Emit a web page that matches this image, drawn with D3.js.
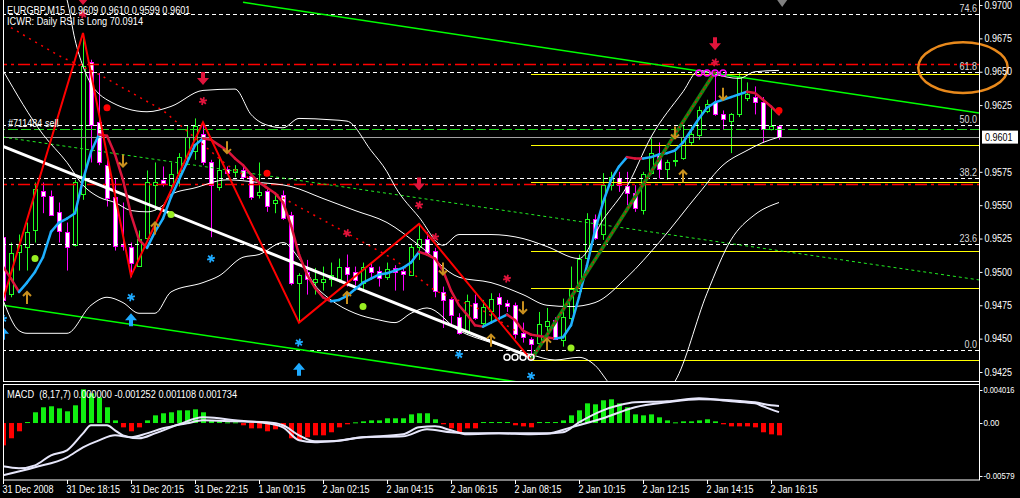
<!DOCTYPE html>
<html><head><meta charset="utf-8">
<script src="https://cdn.jsdelivr.net/npm/d3@7"></script>
<style>html,body{margin:0;padding:0;background:#000;overflow:hidden}text{white-space:pre}</style>
</head><body>
<svg id="c" width="1020" height="498"></svg>
<script>
// ---------------- DATA ----------------
const openP  = [.9526,.9483,.9515,.9519,.9531,.9561,.9557,.9545,.9530,.9520,.9558,.9657,.9612,.9580,.9556,.9520,.9519,.9505,.9525,.9565,.9569,.9565,.9574,.9586,.9590,.9603,.9582,.9563,.9577,.9575,.9576,.9572,.9558,.9561,.9552,.9558,.9543,.9492,.9500,.9493,.9493,.9495,.9495,.9504,.9500,.9492,.9504,.9501,.9496,.9503,.9501,.9498,.9519,.9525,.9516,.9485,.9480,.9466,.9455,.9477,.9462,.9471,.9481,.9477,.9475,.9454,.9450,.9447,.9459,.9464,.9449,.9465,.9486,.9511,.9540,.9528,.9565,.9570,.9564,.9559,.9546,.9574,.9588,.9577,.9583,.9585,.9597,.9602,.9621,.9627,.9618,.9613,.9618,.9630,.9631,.9627,.9607,.9609];
const highP  = [.9529,.9522,.9528,.9537,.9567,.9567,.9561,.9552,.9537,.9569,.9679,.9659,.9649,.9584,.9570,.9552,.9522,.9531,.9576,.9582,.9579,.9582,.9589,.9610,.9615,.9612,.9584,.9585,.9579,.9580,.9580,.9574,.9582,.9563,.9559,.9561,.9545,.9499,.9509,.9503,.9504,.9507,.9510,.9513,.9504,.9507,.9507,.9504,.9507,.9505,.9504,.9520,.9536,.9530,.9518,.9489,.9481,.9469,.9483,.9483,.9479,.9484,.9484,.9479,.9477,.9462,.9451,.9470,.9473,.9466,.9480,.9504,.9513,.9544,.9543,.9574,.9575,.9575,.9575,.9565,.9575,.9600,.9597,.9584,.9590,.9610,.9609,.9624,.9629,.9650,.9621,.9619,.9649,.9642,.9639,.9631,.9623,.9610];
const lowP   = [.9473,.9481,.9501,.9501,.9522,.9544,.9542,.9522,.9501,.9519,.9554,.9582,.9580,.9549,.9516,.9516,.9496,.9504,.9524,.9546,.9564,.9561,.9564,.9580,.9584,.9580,.9526,.9561,.9573,.9571,.9569,.9554,.9555,.9545,.9544,.9539,.9490,.9462,.9483,.9483,.9486,.9489,.9492,.9489,.9490,.9486,.9496,.9489,.9494,.9486,.9486,.9497,.9509,.9513,.9481,.9458,.9459,.9453,.9453,.9464,.9460,.9462,.9464,.9470,.9450,.9447,.9434,.9443,.9454,.9449,.9444,.9462,.9485,.9507,.9524,.9524,.9561,.9560,.9550,.9545,.9543,.9573,.9570,.9569,.9579,.9584,.9595,.9599,.9619,.9617,.9607,.9589,.9616,.9628,.9618,.9597,.9606,.9599];
const closeP = [.9479,.9514,.9520,.9530,.9562,.9557,.9543,.9531,.9519,.9567,.9654,.9610,.9582,.9555,.9519,.9519,.9507,.9525,.9567,.9567,.9567,.9573,.9586,.9601,.9609,.9582,.9565,.9576,.9574,.9577,.9571,.9556,.9560,.9550,.9554,.9541,.9492,.9498,.9495,.9495,.9495,.9498,.9504,.9499,.9494,.9504,.9500,.9496,.9502,.9500,.9499,.9519,.9525,.9515,.9486,.9479,.9468,.9454,.9478,.9466,.9474,.9480,.9476,.9475,.9453,.9451,.9446,.9461,.9463,.9450,.9466,.9487,.9510,.9540,.9526,.9565,.9571,.9565,.9559,.9548,.9573,.9589,.9577,.9582,.9584,.9601,.9603,.9621,.9626,.9618,.9614,.9618,.9646,.9633,.9627,.9607,.9609,.9601];

// coloured moving average (one value per bar)
const maLine = [.9504,.9495,.9485,.9492,.9500,.9511,.9530,.9537,.9540,.9544,.9569,.9590,.9603,.9602,.9588,.9569,.9543,.9524,.9518,.9530,.9540,.9556,.9569,.9582,.9595,.9600,.9599,.9595,.9591,.9585,.9580,.9573,.9567,.9563,.9559,.9552,.9535,.9513,.9498,.9488,.9481,.9478,.9479,.9482,.9487,.9492,.9495,.9498,.9499,.9501,.9503,.9507,.9515,.9513,.9510,.9501,.9486,.9475,.9468,.9460,.9459,.9462,.9465,.9468,.9464,.9456,.9453,.9452,.9451,.9450,.9451,.9460,.9481,.9505,.9531,.9552,.9569,.9579,.9586,.9585,.9585,.9586,.9588,.9589,.9591,.9597,.9606,.9615,.9623,.9627,.9629,.9631,.9633,.9635,.9634,.9629,.9624,.9618];

// Bollinger bands  [bar, price]
const upperBand = [[7,.9719],[8,.9704],[9,.9674],[10,.9654],[13,.9629],[18,.9620],[21,.9624],[25,.9636],[29,.9637],[31,.9618],[33,.9610],[35,.9608],[37,.9615],[41,.9614],[43,.9613],[46,.9591],[48,.9575],[49,.9564],[52,.9541],[55,.9520],[57,.9528],[61,.9528],[65,.9525],[68,.9519],[72,.9510],[75,.9539],[78,.9564],[81,.9601],[85,.9635],[87,.9651],[89,.9648],[92,.9645],[94,.9650],[97,.9651]];
const middleBand = [[0,.9651],[5,.9603],[8,.9582],[10,.9565],[12,.9556],[14,.9552],[16,.9546],[18,.9545],[20,.9550],[21,.9558],[24,.9563],[28,.9569],[32,.9567],[36,.9564],[40,.9555],[44,.9546],[48,.9537],[52,.9520],[57,.9496],[61,.9492],[65,.9483],[68,.9475],[71,.9474],[74,.9477],[78,.9496],[82,.9522],[87,.9559],[90,.9580],[93,.9591],[95,.9597],[97,.9601]];
const lowerBand = [[0,.9479],[2,.9456],[3,.9454],[8,.9454],[11,.9475],[13,.9481],[15,.9477],[17,.9469],[19,.9469],[21,.9485],[25,.9492],[27,.9497],[30,.9511],[32,.9513],[35,.9522],[37,.9510],[39,.9490],[41,.9479],[44,.9469],[47,.9464],[49,.9462],[51,.9469],[53,.9473],[57,.9456],[61,.9447],[66,.9438],[69,.9434],[72,.9436],[74,.9430],[76,.9415],[79,.9404],[82,.9405],[84,.9418],[88,.9484],[91,.9524],[94,.9543],[97,.9552]];

// zigzag and trend objects  [bar, price]
const zigzag = [[0,.9479],[10,.9679],[16,.9497],[25,.9612],[37,.9462],[52,.9536],[66,.9434]];
const riseLine = [[66,.9434],[89,.9650]];
const whiteTrend = [[0,.9594],[66,.9436]];
const channelTop = [[30,.9702],[122,.9619]];
const channelBottom = [[0,.9475],[66,.9416]];
const greenDotted = [[0,.9601],[122,.9494]];
const redDotted = [[1,.9683],[7,.9662],[12,.9648],[20,.9621],[28,.9580],[36,.9552],[43,.9529],[49,.9509],[54,.9486],[60,.9471],[64,.9456]];

// horizontal levels
const fibLow = 0.94415, fibHigh = 0.97787;
const fibLevels = [0, 23.6, 38.2, 50.0, 61.8, 74.6];
const redLevels = [0.9656, 0.9566];
const yellowLevels = [0.9648, 0.9595, 0.9567, 0.9516, 0.9488, 0.9434];
const orderLevel = 0.9607, orderLabel = "#711484 sell";
const bidPrice = 0.9601;
const yellowStart = 66;

// markers  [bar, price]
const crimsonArrows = [[10,.9700],[25,.9640],[52,.9561],[89,.9666]];
const crimsonStars = [[10,.9693],[25,.9628],[43,.9529],[52,.9550],[54,.9526],[63,.9495],[89,.9657]];
const blueArrows = [[0,.9459],[16,.9469],[37,.9432]];
const blueStars = [[0,.9465],[16,.9481],[26,.9510],[37,.9447],[57,.9438],[66,.9422]];
const brownUp = [[3,.9485],[19,.9537],[43,.9485],[61,.9453],[68,.9450],[85,.9576]];
const brownDown = [[15,.9579],[28,.9589],[55,.9498],[65,.9469],[84,.9600],[90,.9629]];
const greenDots = [[4,.9510],[21,.9543],[45,.9474],[71,.9443]];
const redDots = [[13,.9623],[33,.9574],[97,.9621]];
const whiteRings = [[63,.9436],[64,.9436],[65,.9436],[66,.9436]];
const magentaRings = [[87,.9649],[88,.9649],[89,.9649],[90,.9649]];

// MACD
const macdHist = [-0.00227,-0.00155,-0.00084,0.00010,0.00109,0.00160,0.00170,0.00149,0.00119,0.00180,
 0.00342,0.00302,0.00261,0.00160,0.00027,-0.00044,-0.00084,-0.00044,0.00027,0.00078,
 0.00099,0.00109,0.00129,0.00129,0.00139,0.00109,0.00027,0.00017,0.00007,0.00007,
 -0.00023,-0.00054,-0.00054,-0.00084,-0.00064,-0.00044,-0.00155,-0.00176,-0.00145,-0.00125,
 -0.00125,-0.00094,-0.00044,-0.00013,0.00007,0.00017,0.00027,0.00027,0.00048,0.00048,
 0.00048,0.00088,0.00099,0.00099,0.00038,-0.00013,-0.00054,-0.00094,-0.00054,-0.00054,
 0.00010,0.00010,0.00010,0.00010,-0.00023,-0.00034,-0.00044,0.00010,0.00010,0.00010,
 0.00027,0.00078,0.00129,0.00200,0.00190,0.00231,0.00241,0.00200,0.00160,0.00088,
 0.00078,0.00088,0.00058,0.00027,0.00007,0.00017,0.00017,0.00027,0.00038,0.00017,
 -0.00013,-0.00034,-0.00034,-0.00034,-0.00044,-0.00094,-0.00115,-0.00125];
const macdMain = [[0,-0.00440],[2,-0.00460],[4,-0.00430],[6,-0.00328],[8,-0.00277],[10,-0.00105],[11,-0.00023],[13,-0.00023],[14,-0.00074],[15,-0.00125],[17,-0.00155],[19,-0.00105],[22,-0.00013],[25,0.00058],[27,0.00048],[29,0.00027],[33,-0.00003],[35,-0.00044],[37,-0.00176],[39,-0.00196],[41,-0.00186],[45,-0.00145],[50,-0.00115],[52,-0.00044],[54,-0.00034],[56,-0.00074],[58,-0.00115],[62,-0.00105],[66,-0.00115],[70,-0.00094],[72,0.00007],[75,0.00129],[77,0.00180],[79,0.00210],[83,0.00220],[87,0.00251],[91,0.00220],[94,0.00200],[95,0.00170],[96,0.00139],[97,0.00111]];
const macdSignal = [[0,-0.00531],[4,-0.00450],[8,-0.00348],[10,-0.00247],[12,-0.00176],[14,-0.00125],[16,-0.00145],[18,-0.00105],[20,-0.00054],[23,-0.00003],[25,0.00027],[29,0.00017],[33,0.00007],[35,-0.00023],[37,-0.00125],[39,-0.00186],[41,-0.00186],[45,-0.00145],[50,-0.00135],[53,-0.00064],[56,-0.00094],[58,-0.00105],[62,-0.00105],[68,-0.00105],[71,-0.00044],[75,0.00048],[79,0.00160],[83,0.00210],[87,0.00241],[91,0.00231],[94,0.00210],[96,0.00180],[97,0.00173]];

// axis labels
const priceTicks = [0.9700,0.9675,0.9650,0.9625,0.9575,0.9550,0.9525,0.9500,0.9475,0.9450,0.9425];
const macdTicks = [0.004016, 0, -0.00579];
const macdTickLabels = ["0.004016","0.00","-0.00579"];
const timeTickBars = [0,8,16,24,32,40,48,56,64,72,80,88,96];
const timeLabels = ["31 Dec 2008","31 Dec 18:15","31 Dec 20:15","31 Dec 22:15","1 Jan 00:15","2 Jan 02:15","2 Jan 04:15","2 Jan 06:15","2 Jan 08:15","2 Jan 10:15","2 Jan 12:15","2 Jan 14:15","2 Jan 16:15"];
const headerLine1 = "EURGBP,M15  0.9609 0.9610 0.9599 0.9601";
const headerLine2 = "ICWR: Daily RSI is Long 70.0914";
const macdHeader = "MACD  (8,17,7) 0.000000 -0.001252 0.001108 0.001734";

// ---------------- DRAW ----------------
const FONT = "'Liberation Sans', Arial, sans-serif";
const svg = d3.select('#c');
const x = d3.scaleLinear().domain([0,122]).range([3,979]);
const y = d3.scaleLinear().domain([0.9425,0.9700]).range([372,5]);
const ym = d3.scaleLinear().domain([-0.00579,0.004016]).range([480,383.5]);

svg.append('rect').attr('width',1020).attr('height',498).attr('fill','#000');
const defs = svg.append('defs');
defs.append('clipPath').attr('id','cm').append('rect').attr('x',3).attr('y',0).attr('width',977).attr('height',381.5);
defs.append('clipPath').attr('id','cd').append('rect').attr('x',3).attr('y',384.5).attr('width',977).attr('height',95.5);

const gm = svg.append('g').attr('clip-path','url(#cm)');
const gd = svg.append('g').attr('clip-path','url(#cd)');

const line = d3.line().x(d=>x(d[0])).y(d=>y(d[1]));

// candles
const bars = d3.range(openP.length);
const cg = gm.append('g');
cg.selectAll('line.w').data(bars).join('line')
  .attr('x1',i=>Math.round(x(i))+0.5).attr('x2',i=>Math.round(x(i))+0.5)
  .attr('y1',i=>y(highP[i])).attr('y2',i=>y(lowP[i]))
  .attr('stroke',i=>closeP[i]>=openP[i]?'#20ff20':'#ff00ff').attr('stroke-width',1);
cg.selectAll('rect.b').data(bars).join('rect')
  .attr('x',i=>Math.round(x(i))-1.5).attr('width',4)
  .attr('y',i=>Math.round(y(Math.max(openP[i],closeP[i])))+0.5)
  .attr('height',i=>Math.max(1,Math.round(Math.abs(y(openP[i])-y(closeP[i])))))
  .attr('fill',i=>closeP[i]>=openP[i]?'#000':'#fff')
  .attr('stroke',i=>closeP[i]>=openP[i]?'#20ff20':'#ff00ff').attr('stroke-width',1);

// horizontal lines
function hline(p, from, to, color, dash, w){
  gm.append('line').attr('x1',x(from)).attr('x2',x(to)).attr('y1',Math.round(y(p))+0.5).attr('y2',Math.round(y(p))+0.5)
    .attr('stroke',color).attr('stroke-width',w||1).attr('stroke-dasharray',dash||null);
}
fibLevels.forEach(l=>{
  const p = fibLow + (fibHigh-fibLow)*l/100;
  hline(p,-1,122,'#fff','4,3');
});
redLevels.forEach(p=>hline(p,-1,122,'#ff0000','12,4,3,4',1.5));
hline(orderLevel,-1,122,'#22dd22','10,3');
hline(bidPrice,-1,122,'#a0a0a0');
yellowLevels.forEach(p=>hline(p,yellowStart,122,'#ffff00'));

// sloped lines
gm.append('path').attr('d',line(greenDotted)).attr('fill','none').attr('stroke','#22ee22').attr('stroke-dasharray','3,3');
gm.append('path').attr('d',line(channelTop)).attr('fill','none').attr('stroke','#00ff00').attr('stroke-width',1.5);
gm.append('path').attr('d',line(channelBottom)).attr('fill','none').attr('stroke','#00ff00').attr('stroke-width',1.5);
gm.append('path').attr('d',line(redDotted)).attr('fill','none').attr('stroke','#ff0000').attr('stroke-width',1.5).attr('stroke-dasharray','2,5');

// bollinger bands
const curve = d3.line().x(d=>x(d[0])).y(d=>y(d[1])).curve(d3.curveMonotoneX);
[upperBand,middleBand,lowerBand].forEach(b=>gm.append('path').attr('d',curve(b)).attr('fill','none').attr('stroke','#fff').attr('stroke-width',1));

// white trend line
gm.append('path').attr('d',line([[ -1, whiteTrend[0][1] + (whiteTrend[0][1]-whiteTrend[1][1])/66 ], whiteTrend[1]])).attr('fill','none').attr('stroke','#fff').attr('stroke-width',3);

// coloured MA
let prev = '#dc143c';
for(let i=0;i<maLine.length-1;i++){
  let c = maLine[i+1]>maLine[i] ? '#1eb0ff' : (maLine[i+1]<maLine[i] ? '#dc143c' : prev);
  prev = c;
  gm.append('line').attr('x1',x(i)).attr('x2',x(i+1)).attr('y1',y(maLine[i])).attr('y2',y(maLine[i+1]))
    .attr('stroke',c).attr('stroke-width',2.5).attr('stroke-linecap','round');
}

// zigzag
gm.append('path').attr('d',line(zigzag)).attr('fill','none').attr('stroke','#ff0000').attr('stroke-width',2);
// rise line (green with red)
gm.append('path').attr('d',line(riseLine)).attr('fill','none').attr('stroke','#108a10').attr('stroke-width',3.5);
gm.append('path').attr('d',line(riseLine)).attr('fill','none').attr('stroke','#e01010').attr('stroke-width',1.5).attr('stroke-dasharray','2,3');

// markers
function bigArrow(d, up){ const s = up?-1:1;
  return `M${-2},${-13*s}L2,${-13*s}L2,${-7*s}L6,${-7*s}L0,0L-6,${-7*s}L-2,${-7*s}Z`; }
gm.selectAll('path.ca').data(crimsonArrows).join('path').attr('transform',d=>`translate(${x(d[0])},${y(d[1])})`)
  .attr('d',d=>bigArrow(d,false)).attr('fill','#e0143c');
gm.selectAll('path.ba').data(blueArrows).join('path').attr('transform',d=>`translate(${x(d[0])},${y(d[1])})`)
  .attr('d',d=>bigArrow(d,true)).attr('fill','#1eaaff');
const star = d3.symbol().type(d3.symbolAsterisk).size(45)();
gm.selectAll('path.cs').data(crimsonStars).join('path').attr('transform',d=>`translate(${x(d[0])},${y(d[1])}) rotate(15)`)
  .attr('d',star).attr('stroke','#e0143c').attr('stroke-width',1.8).attr('fill','none');
gm.selectAll('path.bs').data(blueStars).join('path').attr('transform',d=>`translate(${x(d[0])},${y(d[1])}) rotate(15)`)
  .attr('d',star).attr('stroke','#1eaaff').attr('stroke-width',1.8).attr('fill','none');
gm.selectAll('path.bu').data(brownUp).join('path').attr('transform',d=>`translate(${x(d[0])},${y(d[1])})`)
  .attr('d','M0,0L0,12M-4,4L0,0L4,4').attr('stroke','#c8901e').attr('stroke-width',2).attr('fill','none');
gm.selectAll('path.bd').data(brownDown).join('path').attr('transform',d=>`translate(${x(d[0])},${y(d[1])})`)
  .attr('d','M0,0L0,-12M-4,-4L0,0L4,-4').attr('stroke','#c8901e').attr('stroke-width',2).attr('fill','none');
gm.selectAll('circle.gd').data(greenDots).join('circle').attr('cx',d=>x(d[0])).attr('cy',d=>y(d[1])).attr('r',3.5).attr('fill','#99ee22');
gm.selectAll('circle.rd').data(redDots).join('circle').attr('cx',d=>x(d[0])).attr('cy',d=>y(d[1])).attr('r',3.5).attr('fill','#ff0000');
gm.selectAll('circle.wr').data(whiteRings).join('circle').attr('cx',d=>x(d[0])).attr('cy',d=>y(d[1])).attr('r',3).attr('fill','none').attr('stroke','#fff').attr('stroke-width',1.5);
gm.selectAll('circle.mr').data(magentaRings).join('circle').attr('cx',d=>x(d[0])).attr('cy',d=>y(d[1])).attr('r',3).attr('fill','none').attr('stroke','#ff00ff').attr('stroke-width',1.5);

// fib labels
fibLevels.forEach(l=>{
  const p = fibLow + (fibHigh-fibLow)*l/100;
  gm.append('text').attr('class','c').attr('x',977).attr('y',Math.round(y(p))-2).attr('text-anchor','end')
    .attr('fill','#dcdcdc').attr('font-size',10).attr('font-family',FONT).text(l.toFixed(1));
});
// order label
gm.append('text').attr('class','c').attr('x',8).attr('y',Math.round(y(orderLevel))-2).attr('fill','#fff')
  .attr('font-size',10).attr('font-family',FONT).text(orderLabel);

// ellipse annotation
svg.append('ellipse').attr('cx',x(120)).attr('cy',y(0.9653)).attr('rx',x(125.6)-x(120)).attr('ry',y(0.9653)-y(0.9672))
  .attr('fill','none').attr('stroke','#e8891c').attr('stroke-width',2.5);

// shift triangle
svg.append('path').attr('d',`M${x(97.4)-5},0L${x(97.4)+5},0L${x(97.4)},7Z`).attr('fill','#808080');

// header texts
svg.append('text').attr('class','c h').attr('x',7).attr('y',14).attr('fill','#fff').attr('font-size',10).attr('font-family',FONT).text(headerLine1);
svg.append('text').attr('class','c h').attr('x',7).attr('y',25).attr('fill','#fff').attr('font-size',10).attr('font-family',FONT).text(headerLine2);

// MACD panel
gd.selectAll('rect.h').data(bars).join('rect')
  .attr('x',i=>Math.round(x(i))-2).attr('width',5)
  .attr('y',i=>Math.min(ym(0),ym(macdHist[i])))
  .attr('height',i=>Math.max(1,Math.abs(ym(macdHist[i])-ym(0))))
  .attr('fill',i=>macdHist[i]>=0?'#11ee11':'#ff0000');
const mline = d3.line().x(d=>x(d[0])).y(d=>ym(d[1])).curve(d3.curveMonotoneX);
gd.append('path').attr('d',mline(macdMain)).attr('fill','none').attr('stroke','#e6e6fa').attr('stroke-width',2);
gd.append('path').attr('d',mline(macdSignal)).attr('fill','none').attr('stroke','#e6e6fa').attr('stroke-width',2);
svg.append('text').attr('class','c h').attr('x',7).attr('y',397.5).attr('fill','#fff').attr('font-size',10).attr('font-family',FONT).text(macdHeader);

// frames
svg.append('rect').attr('x',3.5).attr('y',-2).attr('width',976).attr('height',383.5).attr('fill','none').attr('stroke','#fff');
svg.append('rect').attr('x',3.5).attr('y',384.5).attr('width',976).attr('height',95.5).attr('fill','none').attr('stroke','#fff');

// price axis
const pAxis = d3.axisRight(y).tickValues(priceTicks).tickFormat(d3.format('.4f')).tickSize(3).tickPadding(2);
const gp = svg.append('g').attr('transform','translate(979.5,0)').call(pAxis);
gp.attr('font-family',FONT).attr('font-size',10);
gp.select('.domain').remove();
gp.selectAll('line').attr('stroke','#fff');
gp.selectAll('text').attr('fill','#fff').attr('class','c');

// bid price box
svg.append('rect').attr('x',982).attr('y',y(bidPrice)-6.5).attr('width',36).attr('height',13).attr('fill','#fff');
svg.append('text').attr('class','c').attr('x',985).attr('y',y(bidPrice)+3.5).attr('fill','#000').attr('font-size',10).attr('font-family',FONT).text(d3.format('.4f')(bidPrice));

// macd axis (labels narrowed so that they stay inside the canvas)
const mAxis = d3.axisRight(ym).tickValues(macdTicks).tickFormat((d,i)=>macdTickLabels[i]).tickSize(3).tickPadding(1);
const gma = svg.append('g').attr('transform','translate(979.5,0)').call(mAxis);
gma.attr('font-family',FONT).attr('font-size',9);
gma.select('.domain').remove();
gma.selectAll('line').attr('stroke','#fff');
gma.selectAll('text').attr('fill','#fff').attr('class','m');
gma.selectAll('.tick').filter((d,i)=>i===0).attr('transform','translate(0,390.5)');
gma.selectAll('.tick').filter((d,i)=>i===2).attr('transform','translate(0,476.5)');

// time axis
const tAxis = d3.axisBottom(x).tickValues(timeTickBars).tickFormat((d,i)=>timeLabels[i]).tickSize(4);
const gt = svg.append('g').attr('transform','translate(0,480)').call(tAxis);
gt.attr('font-family',FONT).attr('font-size',10);
gt.select('.domain').remove();
gt.selectAll('line').attr('stroke','#fff');
gt.selectAll('text').attr('fill','#fff').attr('class','c').attr('text-anchor','start').attr('x',-1).attr('y',13).attr('dy',null);

// right border line
svg.append('line').attr('x1',979.5).attr('x2',979.5).attr('y1',0).attr('y2',480).attr('stroke','#fff');

// condense text to mimic the narrow terminal font
svg.selectAll('text.c').each(function(){
  const w = this.getComputedTextLength();
  if(w<=0) return;
  const target = w * (this.classList.contains('h') ? 0.92 : 0.9);
  this.setAttribute('textLength', target.toFixed(1));
  this.setAttribute('lengthAdjust','spacingAndGlyphs');
});
svg.selectAll('text.m').each(function(){
  const w = this.getComputedTextLength();
  if(w<=0) return;
  const target = Math.min(w*0.9, 31);
  this.setAttribute('textLength', target.toFixed(1));
  this.setAttribute('lengthAdjust','spacingAndGlyphs');
});
</script>
</body></html>
